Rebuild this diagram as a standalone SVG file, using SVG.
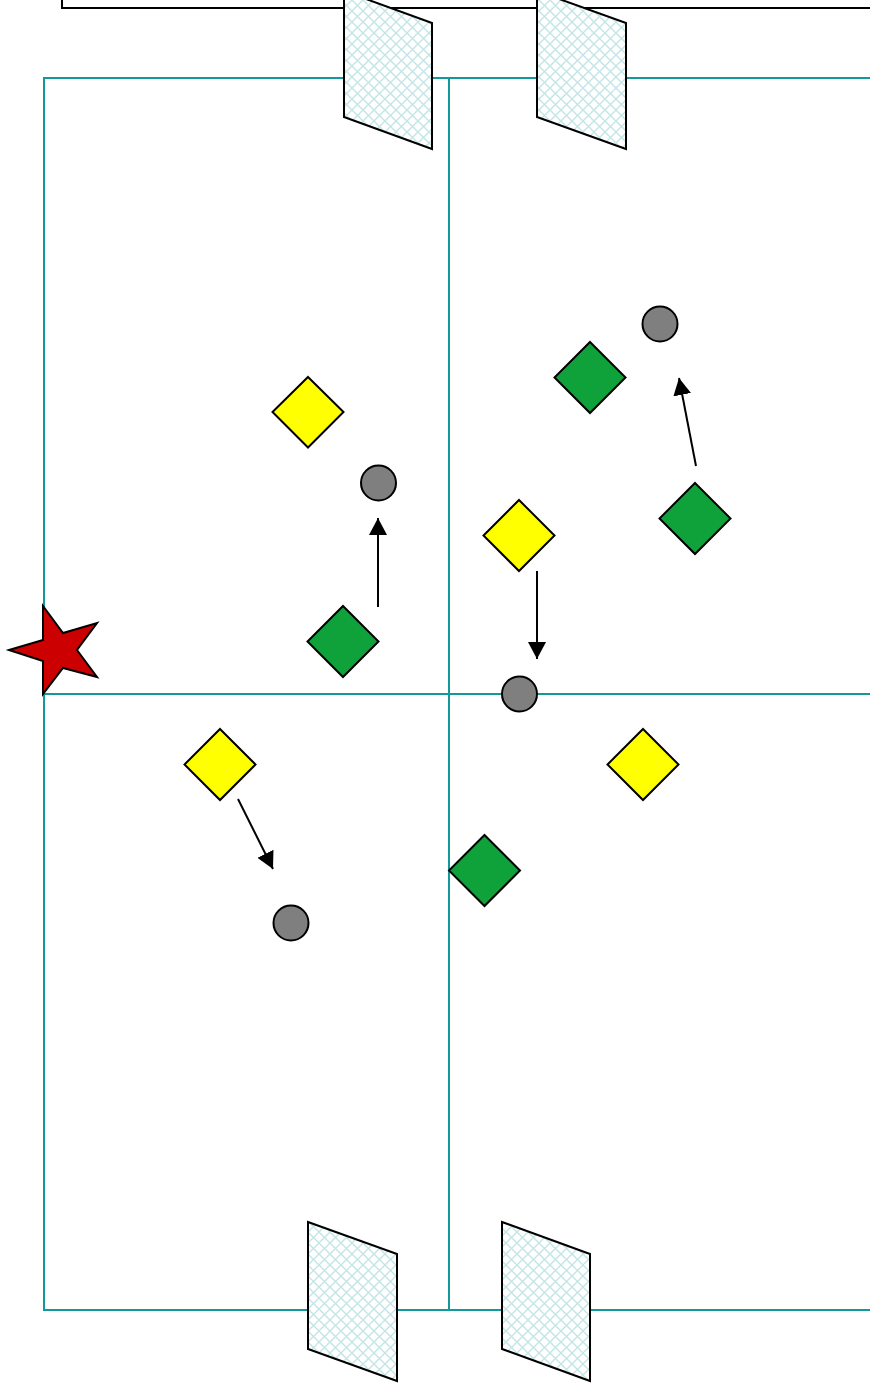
<svg xmlns="http://www.w3.org/2000/svg" width="870" height="1390" viewBox="0 0 870 1390">
  <defs>
    <pattern id="hatch" patternUnits="userSpaceOnUse" width="11" height="11">
      <rect width="11" height="11" fill="#ffffff"/>
      <path d="M0,0 L11,11 M11,0 L0,11" stroke="#c4e5e5" stroke-width="1.4"/>
    </pattern>
    <marker id="ah" markerUnits="userSpaceOnUse" markerWidth="18" markerHeight="18" viewBox="0 0 18 18" refX="17" refY="9" orient="auto">
      <path d="M0,0 L17,9 L0,18 Z" fill="#000"/>
    </marker>
  </defs>
  <style>
    .field { stroke: #129a9a; stroke-width: 2; fill: none; }
    .goal { fill: url(#hatch); stroke: #000; stroke-width: 2; }
    .yel { fill: #ffff00; stroke: #000; stroke-width: 2; }
    .grn { fill: #10a23a; stroke: #000; stroke-width: 2; }
    .ball { fill: #7f7f7f; stroke: #000; stroke-width: 2; }
    .arr { stroke: #000; stroke-width: 2; fill: none; marker-end: url(#ah); }
  </style>
  <rect width="870" height="1390" fill="#ffffff"/>
  <g id="top-box">
    <rect x="62" y="-30" width="900" height="38" fill="none" stroke="#000" stroke-width="2"/>
  </g>
  <g id="field">
    <path class="field" d="M880,78 H44 V1310 H880"/>
    <line class="field" x1="449" y1="78" x2="449" y2="1310"/>
    <line class="field" x1="44" y1="694" x2="880" y2="694"/>
  </g>
  <g id="goal-top-1"><polygon class="goal" points="344,-9 432,23 432,149 344,117"/></g>
  <g id="goal-top-2"><polygon class="goal" points="537,-9 626,23 626,149 537,117"/></g>
  <g id="goal-bottom-1"><polygon class="goal" points="308,1222 397,1254 397,1381 308,1349"/></g>
  <g id="goal-bottom-2"><polygon class="goal" points="502,1222 590,1254 590,1381 502,1349"/></g>
  <g id="star">
    <polygon points="9,650 43,640 43,606 63,633 97,623 77,650 97,677 63,668 43,694 43,661" fill="#cc0000" stroke="#000" stroke-width="2" stroke-linejoin="miter"/>
  </g>
  <g id="connectors">
    <line class="arr" x1="378" y1="607" x2="378" y2="518"/>
    <line class="arr" x1="696" y1="466" x2="679" y2="378"/>
    <line class="arr" x1="537" y1="571" x2="537" y2="659"/>
    <line class="arr" x1="238" y1="799" x2="273" y2="869"/>
  </g>
  <g id="yellow-1"><polygon class="yel" points="308,377 343.5,412 308,447.5 272.5,412"/></g>
  <g id="yellow-2"><polygon class="yel" points="519,500 554.5,535.5 519,571 483.5,535.5"/></g>
  <g id="yellow-3"><polygon class="yel" points="220,729 255.5,764.5 220,800 184.5,764.5"/></g>
  <g id="yellow-4"><polygon class="yel" points="643,729 678.5,764.5 643,800 607.5,764.5"/></g>
  <g id="green-1"><polygon class="grn" points="343,606 378.5,641.5 343,677 307.5,641.5"/></g>
  <g id="green-2"><polygon class="grn" points="590,342 625.5,377.5 590,413 554.5,377.5"/></g>
  <g id="green-3"><polygon class="grn" points="695,483 730.5,518.5 695,554 659.5,518.5"/></g>
  <g id="green-4"><polygon class="grn" points="484.5,835 520,870.5 484.5,906 449,870.5"/></g>
  <g id="ball-1"><circle class="ball" cx="378.5" cy="483" r="17.5"/></g>
  <g id="ball-2"><circle class="ball" cx="660" cy="324" r="17.5"/></g>
  <g id="ball-3"><circle class="ball" cx="519.5" cy="694" r="17.5"/></g>
  <g id="ball-4"><circle class="ball" cx="291" cy="923" r="17.5"/></g>
</svg>
